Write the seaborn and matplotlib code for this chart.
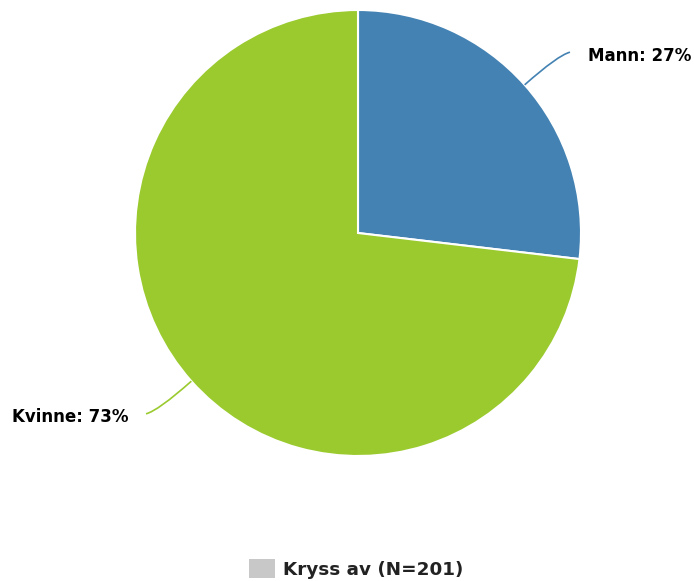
import numpy as np
import matplotlib
matplotlib.use("Agg")
import matplotlib.pyplot as plt
from matplotlib.patches import Patch, PathPatch
from matplotlib.path import Path
import seaborn as sns

categories = ["Mann", "Kvinne"]
counts = [54, 147]
pct_labels = ["27%", "73%"]
colors = ["#4382B3", "#9ACA2E"]
legend_label = "Kryss av (N=201)"
legend_color = "#C8C8C8"

sns.set_theme(style="white")
plt.rcParams["font.family"] = ["DejaVu Sans"]

W, H = 694, 581
fig = plt.figure(figsize=(W / 100, H / 100), dpi=100)
ax = fig.add_axes([0, 0, 1, 1])

cx, cy, R = 358, H - 233, 223
wedges, _ = ax.pie(counts, colors=colors, startangle=90, counterclock=False,
                   center=(cx, cy), radius=R,
                   wedgeprops=dict(edgecolor="white", linewidth=1.5))
ax.set_xlim(0, W)
ax.set_ylim(0, H)
ax.set_aspect("equal")
ax.axis("off")

for w, cat, pl, col in zip(wedges, categories, pct_labels, colors):
    ang = np.deg2rad((w.theta1 + w.theta2) / 2)
    ux, uy = np.cos(ang), np.sin(ang)
    p0 = (cx + R * ux, cy + R * uy)
    p1 = (cx + R * 1.2 * ux, cy + R * 1.2 * uy)
    side = 1 if ux > 0 else -1
    p2 = (p1[0] + side * 12, p1[1] + np.sign(uy) * 3)
    path = Path([p0, p1, p2], [Path.MOVETO, Path.CURVE3, Path.CURVE3])
    ax.add_patch(PathPatch(path, facecolor="none", edgecolor=col, lw=1.2))
    ax.text(p2[0] + side * 18, p2[1] - 3.5, f"{cat}: {pl}",
            ha="left" if side > 0 else "right", va="center",
            fontsize=12, fontweight="bold", color="black")

leg = ax.legend(handles=[Patch(facecolor=legend_color, edgecolor="none", label=legend_label)],
                loc="center", bbox_to_anchor=(356 / W, (H - 569) / H),
                frameon=False, handlelength=1.4, handleheight=1.2, handletextpad=0.45,
                prop=dict(size=13.2, weight="bold"))
for t in leg.get_texts():
    t.set_color("#222222")

fig.savefig("out.png", dpi=100)
